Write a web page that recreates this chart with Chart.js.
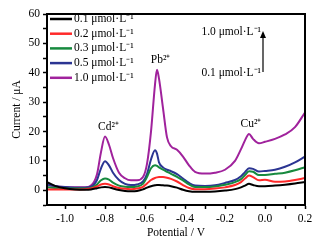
<!DOCTYPE html>
<html lang="en">
<head>
  <meta charset="UTF-8" />
  <title>Stripping voltammetry - Cd, Pb, Cu</title>
  <script src="https://cdn.jsdelivr.net/npm/chart.js"></script>
  <style>
    html, body { margin: 0; padding: 0; background: #fff; }
    canvas { display: block; }
  </style>
</head>
<body>
  <canvas id="chart" width="329" height="245"></canvas>

  <script>
    // potential (V)
    const potential = [-1.09, -1.05, -1.0, -0.95, -0.9, -0.87, -0.84, -0.82, -0.8, -0.78, -0.76, -0.73, -0.7, -0.67,
      -0.64, -0.61, -0.59, -0.57, -0.55, -0.54, -0.53, -0.51, -0.49, -0.47, -0.44, -0.41, -0.38, -0.35,
      -0.3, -0.25, -0.2, -0.15, -0.12, -0.1, -0.08, -0.06, -0.03, 0.0, 0.05, 0.1, 0.15, 0.2];

    // current (uA) per concentration
    const c01 = [2.8, 1.5, 0.7, 0.3, 0.2, 0.3, 0.7, 1.0, 1.1, 1.0, 0.6, 0.1, -0.2, -0.3,
      -0.2, 0.3, 0.9, 1.4, 1.7, 1.8, 1.8, 1.7, 1.6, 1.4, 0.9, 0.2, -0.3, -0.5,
      -0.5, -0.4, -0.1, 0.4, 1.0, 1.6, 2.2, 1.8, 1.4, 1.4, 1.6, 1.9, 2.3, 2.8];
    const c02 = [0.3, 0.3, 0.3, 0.3, 0.4, 0.6, 1.3, 2.0, 2.2, 2.0, 1.4, 0.8, 0.5, 0.4,
      0.6, 1.2, 2.3, 3.5, 4.2, 4.4, 4.5, 4.5, 4.3, 3.9, 3.0, 1.8, 0.8, 0.4,
      0.4, 0.6, 1.0, 1.8, 2.8, 4.0, 5.0, 4.5, 3.4, 3.6, 2.9, 3.0, 3.5, 4.2];
    const c03 = [1.0, 0.8, 0.6, 0.6, 0.6, 0.8, 2.0, 3.4, 4.0, 3.6, 2.6, 1.6, 1.2, 1.1,
      1.3, 2.2, 4.5, 7.5, 8.5, 8.3, 7.8, 7.0, 6.3, 5.6, 4.6, 3.4, 2.0, 1.1,
      1.1, 1.3, 1.9, 2.8, 3.8, 5.2, 6.5, 6.3, 5.2, 5.2, 5.6, 6.0, 6.8, 7.9];
    const c05 = [2.0, 1.5, 1.1, 0.9, 0.9, 1.2, 3.5, 7.5, 9.9, 8.5, 6.0, 3.5, 2.2, 1.8,
      2.0, 3.0, 5.5, 10.5, 13.6, 12.5, 9.5, 7.8, 7.0, 6.5, 5.5, 4.0, 2.5, 1.6,
      1.5, 1.7, 2.5, 3.5, 4.8, 6.2, 7.5, 7.3, 6.4, 6.6, 7.0, 8.0, 9.5, 11.5];
    const c10 = [1.8, 1.4, 1.1, 1.0, 1.0, 1.6, 5.5, 13, 18.3, 15.5, 11, 6.0, 4.1, 3.4,
      3.4, 4.5, 9.0, 20, 36, 41, 38, 28, 18, 15, 13.8, 11.5, 8.5, 6.3,
      5.7, 6.0, 7.0, 10, 14, 17, 19.2, 17.5, 16, 16.5, 17.5, 19, 21.5, 26.5];

    const seriesLabels = ['0.1 μmol·L⁻¹', '0.2 μmol·L⁻¹', '0.3 μmol·L⁻¹', '0.5 μmol·L⁻¹', '1.0 μmol·L⁻¹'];
    const seriesColors = ['#000000', '#ff2a2a', '#178a3e', '#2b3592', '#a0229c'];

    const xTickValues = [-1.0, -0.9, -0.8, -0.7, -0.6, -0.5, -0.4, -0.3, -0.2, -0.1, 0.0, 0.1, 0.2];
    const xTickLabels = ['-1.0', '', '-0.8', '', '-0.6', '', '-0.4', '', '-0.2', '', '0.0', '', '0.2'];
    const yTickValues = [-5, 0, 5, 10, 15, 20, 25, 30, 35, 40, 45, 50, 55, 60];
    const yTickLabels = ['', '0', '', '10', '', '20', '', '30', '', '40', '', '50', '', '60'];

    // peak labels [text, x, y]
    const peakNotes = [['Cd²⁺', -0.783, 21.7], ['Pb²⁺', -0.522, 44.4], ['Cu²⁺', -0.07, 22.7]];

    const FONT = '"Liberation Serif", "Times New Roman", serif';

    const toPoints = ys => ys.map((y, i) => ({ x: potential[i], y: y }));
    const allSeries = [c01, c02, c03, c05, c10];

    // frame, legend and notes
    const extras = {
      id: 'extras',
      afterDatasetsDraw(chart) {
        const { ctx, chartArea: a, scales: { x, y } } = chart;
        ctx.save();

        // frame
        ctx.strokeStyle = '#000';
        ctx.lineWidth = 2;
        ctx.strokeRect(a.left, a.top, a.right - a.left, a.bottom - a.top);

        // legend
        ctx.font = '11.5px ' + FONT;
        ctx.textBaseline = 'middle';
        ctx.textAlign = 'left';
        seriesLabels.forEach((lab, i) => {
          const ly = a.top + 5 + i * 14.7;
          ctx.strokeStyle = seriesColors[i];
          ctx.lineWidth = 2.5;
          ctx.beginPath();
          ctx.moveTo(a.left + 3, ly);
          ctx.lineTo(a.left + 25, ly);
          ctx.stroke();
          ctx.fillStyle = '#000';
          ctx.fillText(lab, a.left + 27, ly);
        });

        // peak labels
        ctx.font = '11.5px ' + FONT;
        ctx.textAlign = 'center';
        peakNotes.forEach(([t, px, py]) => {
          ctx.fillText(t, x.getPixelForValue(px), y.getPixelForValue(py));
        });

        // concentration arrow
        const ax = x.getPixelForValue(-0.01);
        const yLow = y.getPixelForValue(40.3);
        const yHigh = y.getPixelForValue(53.9);
        ctx.strokeStyle = '#000';
        ctx.lineWidth = 1.2;
        ctx.beginPath();
        ctx.moveTo(ax, yLow);
        ctx.lineTo(ax, yHigh + 5);
        ctx.stroke();
        ctx.fillStyle = '#000';
        ctx.beginPath();
        ctx.moveTo(ax, yHigh - 1);
        ctx.lineTo(ax - 3, yHigh + 6);
        ctx.lineTo(ax + 3, yHigh + 6);
        ctx.closePath();
        ctx.fill();

        ctx.textAlign = 'right';
        ctx.font = '11.5px ' + FONT;
        ctx.fillText('1.0 μmol·L⁻¹', ax - 2, y.getPixelForValue(54));
        ctx.fillText('0.1 μmol·L⁻¹', ax - 2, y.getPixelForValue(39.8));

        ctx.restore();
      }
    };

    new Chart(document.getElementById('chart').getContext('2d'), {
      type: 'line',
      data: {
        datasets: allSeries.map((s, i) => ({
          label: seriesLabels[i],
          data: toPoints(s),
          borderColor: seriesColors[i],
          backgroundColor: seriesColors[i],
          borderWidth: 2,
          pointRadius: 0,
          fill: false,
          cubicInterpolationMode: 'monotone'
        }))
      },
      options: {
        responsive: false,
        animation: false,
        layout: { padding: { top: 14, right: 24, left: 0, bottom: 0 } },
        plugins: {
          legend: { display: false },
          tooltip: { enabled: false }
        },
        scales: {
          x: {
            type: 'linear',
            min: -1.09,
            max: 0.2,
            afterBuildTicks: s => { s.ticks = xTickValues.map(v => ({ value: v })); },
            afterFit: s => { s.height = 40; },
            border: { display: true, color: '#000', width: 2 },
            grid: { drawOnChartArea: false, drawTicks: true, tickLength: 4, tickColor: '#000', tickWidth: 1.5 },
            ticks: {
              color: '#000',
              padding: 3,
              maxRotation: 0,
              autoSkip: false,
              font: { family: FONT, size: 11.5 },
              callback: (v, i) => xTickLabels[i]
            },
            title: {
              display: true,
              text: 'Potential / V',
              color: '#000',
              font: { family: FONT, size: 11.5 },
              padding: { top: 0, bottom: 5 }
            }
          },
          y: {
            min: -5,
            max: 60,
            afterBuildTicks: s => { s.ticks = yTickValues.map(v => ({ value: v })); },
            afterFit: s => { s.width = 47; },
            border: { display: true, color: '#000', width: 2 },
            grid: { drawOnChartArea: false, drawTicks: true, tickLength: 4, tickColor: '#000', tickWidth: 1.5 },
            ticks: {
              color: '#000',
              padding: 3,
              autoSkip: false,
              font: { family: FONT, size: 11.5 },
              callback: (v, i) => yTickLabels[i]
            },
            title: {
              display: true,
              text: 'Current / μA',
              color: '#000',
              font: { family: FONT, size: 11.5 },
              padding: { top: 10, bottom: 0 }
            }
          }
        }
      },
      plugins: [extras]
    });
  </script>
</body>
</html>
